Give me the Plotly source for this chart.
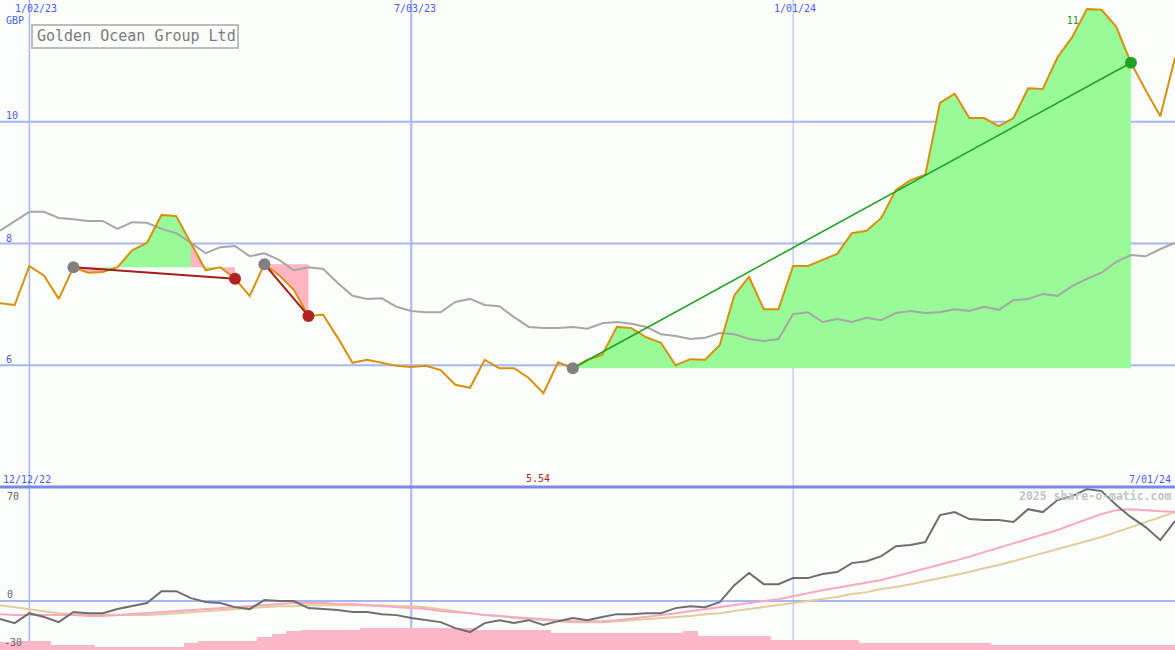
import plotly.graph_objects as go
import pandas as pd

# weekly closes, Golden Ocean Group Ltd (GBP)
dates = pd.date_range('2022-12-19', periods=81, freq='7D')

price = [7.02, 6.99, 7.63, 7.47, 7.09, 7.61, 7.52, 7.53, 7.61, 7.89,
         8.01, 8.47, 8.45, 8.01, 7.56, 7.61, 7.42, 7.14, 7.66, 7.48,
         7.24, 6.81, 6.83, 6.45, 6.04, 6.09, 6.04, 5.99, 5.97, 5.99,
         5.92, 5.68, 5.63, 6.09, 5.95, 5.95, 5.79, 5.54, 6.05, 5.95,
         6.09, 6.17, 6.63, 6.61, 6.46, 6.37, 6.00, 6.10, 6.09, 6.33,
         7.15, 7.45, 6.92, 6.92, 7.63, 7.63, 7.73, 7.83, 8.17, 8.21,
         8.42, 8.88, 9.04, 9.13, 10.31, 10.46, 10.06, 10.06, 9.93, 10.06,
         10.55, 10.54, 11.06, 11.39, 11.85, 11.84, 11.56, 10.97, 10.52, 10.09,
         11.05]

avg = [8.21, 8.37, 8.52, 8.52, 8.42, 8.40, 8.37, 8.37, 8.24, 8.35,
       8.34, 8.24, 8.17, 8.01, 7.84, 7.94, 7.96, 7.79, 7.84, 7.73,
       7.56, 7.61, 7.58, 7.35, 7.14, 7.09, 7.10, 6.96, 6.89, 6.87,
       6.87, 7.04, 7.09, 6.99, 6.97, 6.79, 6.63, 6.61, 6.61, 6.63,
       6.60, 6.69, 6.71, 6.68, 6.63, 6.51, 6.48, 6.43, 6.45, 6.53,
       6.51, 6.43, 6.40, 6.43, 6.84, 6.87, 6.71, 6.76, 6.71, 6.78,
       6.74, 6.86, 6.89, 6.86, 6.87, 6.92, 6.89, 6.96, 6.91, 7.07,
       7.09, 7.17, 7.14, 7.30, 7.42, 7.52, 7.70, 7.81, 7.79, 7.91,
       8.01]

# lower panel
osc = [-11.0, -13.5, -7.4, -9.8, -12.9, -6.7, -7.4, -7.4, -4.9, -3.1,
       -1.2, 6.1, 6.1, 1.8, -0.6, -1.2, -3.7, -4.9, 0.6, 0.0,
       0.0, -4.3, -4.9, -5.5, -6.7, -6.7, -8.0, -8.6, -10.4, -11.7,
       -12.9, -16.6, -19.0, -13.5, -11.7, -13.5, -11.7, -14.7, -12.3, -10.4,
       -11.7, -9.8, -8.0, -8.0, -7.4, -7.4, -4.3, -3.1, -3.7, -0.6,
       9.8, 17.2, 10.4, 10.4, 14.1, 14.1, 16.6, 17.8, 23.3, 24.5,
       27.6, 33.7, 34.4, 36.2, 52.8, 54.6, 50.3, 49.7, 49.7, 48.5,
       56.4, 54.6, 62.0, 64.4, 68.7, 67.5, 58.9, 51.5, 45.4, 37.4,
       49.1]

osc_fast = [-8.0, -8.6, -8.6, -8.6, -8.6, -8.6, -9.2, -9.2, -8.6, -8.0,
            -7.4, -6.7, -6.1, -5.5, -4.9, -4.3, -3.7, -3.1, -2.5, -1.8,
            -1.2, -1.2, -1.2, -1.8, -1.8, -2.5, -3.1, -3.7, -4.3, -4.9,
            -6.1, -6.7, -7.4, -8.6, -9.2, -9.8, -10.4, -11.0, -11.7, -12.3,
            -12.3, -12.3, -11.7, -10.8, -9.8, -8.6, -7.4, -6.1, -4.9, -3.7,
            -2.5, -1.2, 0.0, 1.2, 3.1, 5.2, 6.7, 8.2, 9.8, 11.3,
            12.9, 15.2, 17.5, 19.8, 22.1, 24.7, 27.3, 29.9, 32.5, 35.3,
            38.1, 40.9, 43.6, 46.9, 50.2, 53.4, 55.8, 56.4, 55.8, 55.2,
            54.6]

osc_slow = [-2.5, -3.7, -4.9, -6.1, -7.4, -8.0, -8.0, -8.0, -8.6, -8.6,
            -8.6, -8.0, -7.4, -6.7, -6.1, -5.5, -4.9, -4.3, -3.7, -3.1,
            -3.1, -2.5, -2.5, -2.5, -2.5, -2.5, -2.5, -3.1, -3.1, -3.7,
            -4.9, -6.1, -7.4, -8.6, -9.2, -10.4, -11.0, -11.7, -12.3, -12.9,
            -12.9, -12.9, -12.3, -11.7, -11.0, -10.4, -9.8, -9.2, -8.0, -7.4,
            -6.1, -4.9, -3.7, -2.5, -1.2, 0.0, 1.2, 2.5, 4.3, 5.5,
            7.4, 8.6, 10.4, 12.3, 14.1, 16.0, 17.8, 20.2, 22.1, 24.5,
            27.0, 29.4, 31.9, 34.4, 36.8, 39.3, 42.3, 45.4, 48.5, 51.5,
            54.6]

volume = [4.8, 4.8, 5.5, 5.5, 3.0, 3.0, 3.0, 1.8, 1.8, 1.8,
          1.8, 1.8, 1.8, 4.2, 5.5, 5.5, 5.5, 5.5, 7.9, 9.8,
          11.6, 12.2, 12.2, 12.2, 12.2, 13.4, 13.4, 13.4, 13.4, 13.4,
          13.4, 13.4, 13.4, 12.2, 12.2, 12.2, 12.2, 12.2, 10.4, 10.4,
          10.4, 10.4, 10.4, 10.4, 10.4, 10.4, 10.4, 11.6, 8.5, 8.5,
          8.5, 8.5, 8.5, 6.1, 6.1, 6.1, 6.1, 6.1, 6.1, 4.2,
          4.2, 4.2, 4.2, 4.2, 4.2, 4.2, 4.2, 4.2, 3.0, 3.0,
          3.0, 3.0, 3.0, 3.0, 3.0, 3.0, 3.0, 3.0, 3.0, 3.0,
          3.0]

# (entry week, exit week)
trades = [(5, 16), (18, 21), (39, 77)]

GREEN_FILL = '#98fb98'
PINK_FILL = '#ffb6c1'
BLUE = '#4a5cf0'
GRID = '#a9b6f4'
mono = 'DejaVu Sans Mono'

fig = go.Figure()

# max label sits under the fill
imax = price.index(max(price))
fig.add_trace(go.Scatter(x=[dates[imax] - pd.Timedelta(days=2.4)], y=[11.655], mode='text',
                         text=[f'{max(price):.2f}'],
                         textfont=dict(family=mono, size=10, color='#229922'),
                         showlegend=False, hoverinfo='skip'))

# trade fills: each weekly segment shaded by whether the close is above the entry
for colour, above in [(GREEN_FILL, True), (PINK_FILL, False)]:
    xs, ys = [], []
    for a, b in trades:
        e = price[a]
        for k in range(a + 1, b + 1):
            if (price[k] >= e) == above:
                xs += [dates[k - 1], dates[k - 1], dates[k], dates[k], None]
                ys += [e, price[k - 1], price[k], e, None]
    fig.add_trace(go.Scatter(x=xs, y=ys, fill='toself', fillcolor=colour, mode='none',
                             showlegend=False, hoverinfo='skip'))

fig.add_trace(go.Scatter(x=dates, y=avg, mode='lines', line=dict(color='#a6a6a6', width=2),
                         showlegend=False))
fig.add_trace(go.Scatter(x=dates, y=price, mode='lines', line=dict(color='#d8900a', width=2),
                         showlegend=False))

for a, b in trades:
    win = price[b] > price[a]
    col = '#22a022' if win else '#a51c1c'
    fig.add_trace(go.Scatter(x=[dates[a], dates[b]], y=[price[a], price[b]], mode='lines',
                             line=dict(color=col, width=2 if not win else 1.6), showlegend=False))
    fig.add_trace(go.Scatter(x=[dates[a]], y=[price[a]], mode='markers',
                             marker=dict(color='#808080', size=12), showlegend=False))
    fig.add_trace(go.Scatter(x=[dates[b]], y=[price[b]], mode='markers',
                             marker=dict(color='#24a024' if win else '#b22222', size=12),
                             showlegend=False))

# lower panel
fig.add_trace(go.Bar(x=dates, y=volume, base=-30, width=7 * 24 * 3600 * 1000,
                     marker=dict(color='#fbb6c8', line=dict(width=0)), xaxis='x2', yaxis='y2',
                     showlegend=False))
fig.add_trace(go.Scatter(x=dates, y=osc_slow, mode='lines', line=dict(color='#e2cc9c', width=2),
                         xaxis='x2', yaxis='y2', showlegend=False))
fig.add_trace(go.Scatter(x=dates, y=osc_fast, mode='lines', line=dict(color='#f8a8c0', width=2),
                         xaxis='x2', yaxis='y2', showlegend=False))
fig.add_trace(go.Scatter(x=dates, y=osc, mode='lines', line=dict(color='#6e6e6e', width=2),
                         xaxis='x2', yaxis='y2', showlegend=False))

split = 163 / 650
xr = [dates[0], dates[-1]]

shapes = []
for lvl in [6, 8, 10]:
    shapes.append(dict(type='line', xref='paper', x0=0, x1=1, yref='y', y0=lvl, y1=lvl,
                       line=dict(color=GRID, width=2), layer='below'))
shapes.append(dict(type='line', xref='paper', x0=0, x1=1, yref='y2', y0=0, y1=0,
                   line=dict(color=GRID, width=2), layer='below'))
for d, w in [('2023-01-02', 1.5), ('2023-07-03', 2), ('2024-01-01', 1)]:
    shapes.append(dict(type='line', xref='x', x0=d, x1=d, yref='paper', y0=0, y1=1,
                       line=dict(color=GRID, width=w), layer='below'))
shapes.append(dict(type='line', xref='paper', x0=0, x1=1, yref='paper', y0=split, y1=split,
                   line=dict(color='#7b87ec', width=3)))
# title box
shapes.append(dict(type='rect', xref='paper', yref='paper', x0=32 / 1175, x1=238 / 1175,
                   y0=1 - 48 / 650, y1=1 - 25 / 650, line=dict(color='#bdbdbd', width=2),
                   fillcolor='rgba(0,0,0,0)'))


def label(text, px, py, color=BLUE, size=10, anchor='left', **kw):
    return dict(text=text, xref='paper', yref='paper', x=px / 1175, y=1 - py / 650,
                xanchor=anchor, yanchor='middle', showarrow=False,
                font=dict(family=mono, size=size, color=color), **kw)


imin = price.index(min(price))
annotations = [
    label('1/02/23', 13, 8),
    label('7/03/23', 415, 8, anchor='center'),
    label('1/01/24', 795, 8, anchor='center'),
    label('GBP', 4, 20),
    label('10', 4, 116),
    label('8', 4, 238),
    label('6', 4, 359),
    label('Golden Ocean Group Ltd', 136, 36, color='#7a7a7a', size=15, anchor='center'),
    label('12/12/22', 1, 479),
    label('7/01/24', 1173, 479, anchor='right'),
    label('<b>2025 share-o-matic.com</b>', 1173, 496, color='#c4c4c4', size=11.5, anchor='right'),
    label('70', 5, 496, color='#666666'),
    label('0', 5, 594, color='#666666'),
    label('-30', 2, 642, color='#666666'),
    dict(text=f'{min(price):.2f}', xref='x', x=dates[imin], yref='paper', y=1 - 478 / 650,
         xanchor='center', yanchor='middle', showarrow=False,
         font=dict(family=mono, size=10, color='#a52a2a'), xshift=-5),
]

fig.update_layout(
    width=1175, height=650,
    margin=dict(l=0, r=0, t=0, b=0),
    paper_bgcolor='#fbfdfb', plot_bgcolor='#fbfdfb',
    xaxis=dict(range=xr, domain=[0, 1], visible=False, showgrid=False),
    xaxis2=dict(range=xr, domain=[0, 1], visible=False, showgrid=False, anchor='y2', matches='x'),
    yaxis=dict(range=[4, 12], domain=[split, 1], visible=False, showgrid=False),
    yaxis2=dict(range=[-30, 70], domain=[0, split], visible=False, showgrid=False, anchor='x2'),
    bargap=0,
    shapes=shapes,
    annotations=annotations,
    showlegend=False,
)

fig.write_html('out.html', config={'displayModeBar': False},
               post_script="document.body.style.margin='0';")
